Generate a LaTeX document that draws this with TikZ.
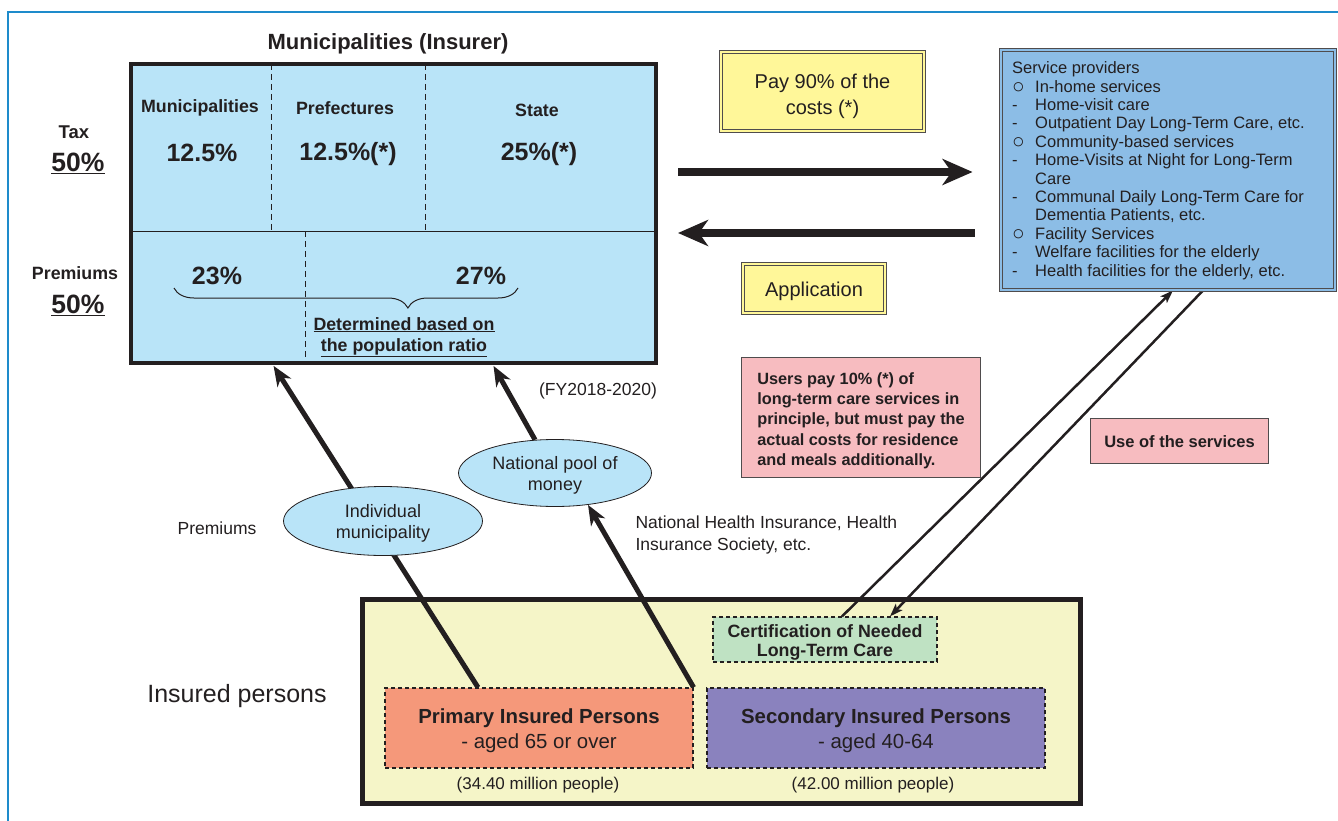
\documentclass[tikz,border=0pt]{standalone}
\usepackage{fontspec}
\setmainfont{Liberation Sans}
\usetikzlibrary{arrows.meta,shapes.geometric,decorations.pathreplacing}
\definecolor{ink}{HTML}{231F20}
\definecolor{lblue}{HTML}{B9E4F8}
\definecolor{sblue}{HTML}{8CBDE6}
\definecolor{yel}{HTML}{FFF799}
\definecolor{pink}{HTML}{F7BCC0}
\definecolor{cream}{HTML}{F5F5C8}
\definecolor{mint}{HTML}{BFE2C3}
\definecolor{salmon}{HTML}{F5987A}
\definecolor{violet}{HTML}{8A82BE}
\definecolor{frameblue}{HTML}{1E8BCB}
\pgfdeclarelayer{bg}
\pgfsetlayers{bg,main}
\newcommand\ring{\makebox[23pt][l]{\fontsize{21}{18.4}\selectfont\raisebox{-1pt}{○}}}
\newcommand\dashitem{\makebox[23pt][l]{-}}
\newcommand\lift[1]{\rule{0pt}{#1}}

\begin{document}
\begin{tikzpicture}[x=1pt, y=-1pt, text=ink,
        lbl/.style={font=\fontsize{17.5}{22}\selectfont},
        blbl/.style={font=\bfseries\fontsize{17.8}{21}\selectfont},
        big/.style={font=\bfseries\fontsize{25}{30}\selectfont},
        ybox/.style={draw=ink!80, double=yel, double distance=2.5pt, line width=0.9pt, fill=yel, inner sep=0pt, align=center},
        pbox/.style={draw=ink!80, line width=1pt, fill=pink, inner sep=0pt},
        dbox/.style={draw=ink, dash pattern=on 4pt off 3pt, line width=1.2pt, inner sep=0pt, align=center},
        oval/.style={ellipse, draw=ink, line width=0.8pt, fill=lblue, inner sep=0pt, align=center, font=\fontsize{18}{21}\selectfont},
        bigarr/.style={draw=ink, line width=8pt, -{Stealth[length=30pt,width=26pt,inset=9pt]}},
        fat/.style={draw=ink, line width=5pt, -{Stealth[length=20pt,width=16pt,inset=6pt]}},
        slim/.style={draw=ink, line width=2.5pt, -{Stealth[length=13pt,width=9pt,inset=3pt]}}]
        \useasboundingbox (0,0) rectangle (1338,821);
        \draw[frameblue, line width=1.5pt] (8,821) -- (8,12) -- (1338,12);

        % insurer
        \node (ttl) [font=\bfseries\fontsize{22}{26}\selectfont] at (388,44) {Municipalities (Insurer)};
        \node (ins) [draw=ink, line width=4pt, fill=lblue, minimum width=525pt, minimum height=299pt, inner sep=0pt] at (393.5,213.5) {};
        \draw[ink, line width=1pt] (ins.west |- 0,231) -- (ins.east |- 0,231);
        \draw[ink, line width=0.8pt, dash pattern=on 6pt off 4pt] (271,64) -- (271,231);
        \draw[ink, line width=0.8pt, dash pattern=on 6pt off 4pt] (425,64) -- (425,231);
        \draw[ink, line width=0.8pt, dash pattern=on 6pt off 4pt] (305,231) -- (305,363);
        \node (mun) [blbl] at (200,108) {Municipalities};
        \node (pref) [blbl] at (345,108) {Prefectures};
        \node (state) [blbl] at (537,110) {State};
        \node (mpct) [big] at (202,153) {12.5\%};
        \node (ppct) [big] at (348,154) {12.5\%(*)};
        \node (spct) [big] at (539,154) {25\%(*)};
        \node (tax) [blbl, font=\bfseries\fontsize{18.5}{22}\selectfont] at (74,132) {Tax};
        \node (taxpct) [big, font=\bfseries\fontsize{26.5}{30}\selectfont] at (78,163) {\underline{50\%}};
        \node (prem) [blbl] at (75,273) {Premiums};
        \node (prempct) [big, font=\bfseries\fontsize{26.5}{30}\selectfont] at (78,305) {\underline{50\%}};
        \node (p23) [big] at (217,276) {23\%};
        \node (p27) [big] at (481,276) {27\%};
        \draw[ink, line width=1pt, decorate, decoration={brace, amplitude=20pt, aspect=0.32}] (518,288) -- (174,288);
        \node (ratio) [blbl, align=center] at (404,337) {\underline{Determined based on}\\\underline{the population ratio}};
        \node (fy) [lbl] at (598,391) {(FY2018-2020)};

        % providers
        \node (pay) [ybox, minimum width=203pt, minimum height=79pt, font=\fontsize{20}{26}\selectfont] at (822.5,91.5) {\lift{25pt}Pay 90\% of the\\costs (*)};
        \node (app) [ybox, minimum width=142pt, minimum height=49pt, font=\fontsize{20}{24}\selectfont] at (814,288.5) {\lift{21pt}Application};
        \node (srv) [draw=ink!80, double=sblue, double distance=2.5pt, line width=0.9pt, fill=sblue, minimum width=334pt, minimum height=240pt, inner sep=0pt] at (1168,170) {};
        \node (srvtxt) [anchor=north west, inner sep=0pt, align=left, font=\fontsize{16.5}{18.4}\selectfont] at (1012,61.5) {Service providers\\
                \ring In-home services\\
                \dashitem Home-visit care\\
                \dashitem Outpatient Day Long-Term Care, etc.\\
                \ring Community-based services\\
                \dashitem Home-Visits at Night for Long-Term\\
                \makebox[23pt][l]{}Care\\
                \dashitem Communal Daily Long-Term Care for\\
                \makebox[23pt][l]{}Dementia Patients, etc.\\
                \ring Facility Services\\
                \dashitem Welfare facilities for the elderly\\
                \dashitem Health facilities for the elderly, etc.};
        \node (note) [pbox, minimum width=239pt, minimum height=120pt, align=left, font=\bfseries\fontsize{16.3}{20.2}\selectfont] at (861,417.5) {\lift{18pt}Users pay 10\% (*) of\\long-term care services in\\principle, but must pay the\\actual costs for residence\\and meals additionally.};
        \node (use) [pbox, minimum width=178pt, minimum height=45pt, font=\bfseries\fontsize{16.5}{20}\selectfont] at (1179.5,441) {\lift{14pt}Use of the services};

        % insured
        \node (indiv) [oval, minimum width=199pt, minimum height=69pt] at (383,521) {\lift{18pt}Individual\\municipality};
        \node (pool) [oval, minimum width=193pt, minimum height=67pt] at (555,473) {\lift{18pt}National pool of\\money};
        \node (premlbl) [lbl] at (217,528) {Premiums};
        \node (nhi) [lbl, anchor=west, align=left] at (632,535) {National Health Insurance, Health\\Insurance Society, etc.};
        \node (insured) [font=\fontsize{25}{30}\selectfont] at (237,696) {Insured persons};
        \node (cert) [dbox, fill=mint, minimum width=224pt, minimum height=45pt, font=\bfseries\fontsize{17.8}{19}\selectfont] at (825,639.5) {\lift{19pt}Certification of Needed\\Long-Term Care};
        \node (prim) [dbox, fill=salmon, minimum width=308pt, minimum height=80pt, font=\fontsize{20.4}{25}\selectfont] at (539,728) {\lift{20pt}\textbf{Primary Insured Persons}\\- aged 65 or over};
        \node (sec) [dbox, fill=violet, minimum width=338pt, minimum height=80pt, font=\fontsize{20.4}{25}\selectfont] at (876,728) {\lift{20pt}\textbf{Secondary Insured Persons}\\- aged 40-64};
        \node (primn) [font=\fontsize{17}{20}\selectfont] at (538,785) {(34.40 million people)};
        \node (secn) [font=\fontsize{17}{20}\selectfont] at (873,785) {(42.00 million people)};

        \begin{pgfonlayer}{bg}
                \node (bot) [draw=ink, line width=5pt, fill=cream, minimum width=718pt, minimum height=204pt] at (721.5,701.5) {};
                \draw (ins.east |- 0,172) edge [bigarr, shorten <=20pt, shorten >=28pt] (srv.west |- 0,172);
                \draw (srv.west |- 0,233) edge [bigarr, shorten <=26pt, shorten >=20pt] (ins.east |- 0,233);
                \draw (prim.north -| 478,0) edge [fat, shorten >=1pt] (ins.south -| 273,0);
                \draw (prim.north east) edge [fat] (pool.-44);
                \draw (pool.121) edge [fat, shorten >=1pt] (ins.south -| 493,0);
                \draw (cert.north -| 842,0) edge [slim] (srv.south -| 1173,0);
                \draw (srv.south -| 1203,0) edge [slim] (cert.north -| 890,0);
        \end{pgfonlayer}
\end{tikzpicture}
\end{document}
